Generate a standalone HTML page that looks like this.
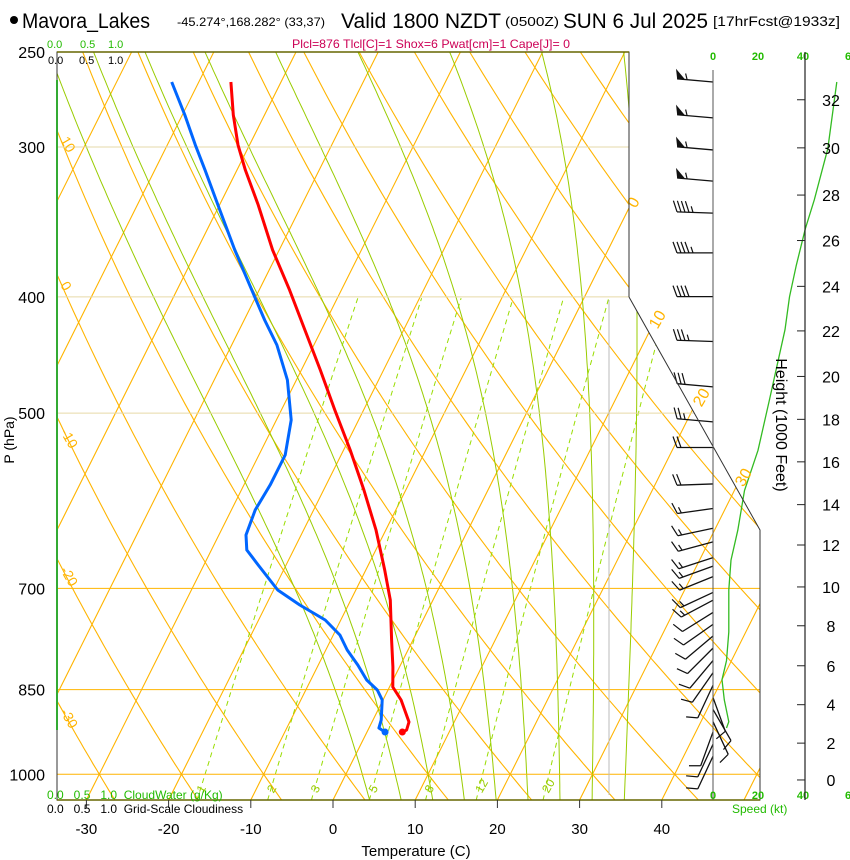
<!DOCTYPE html>
<html><head><meta charset="utf-8"><style>
html,body{margin:0;padding:0;background:#fff;}
svg{display:block;font-family:"Liberation Sans",sans-serif;}
</style></head><body>
<div style="position:relative;width:850px;height:860px">
<svg id="chart" width="850" height="860" viewBox="0 0 850 860" xmlns="http://www.w3.org/2000/svg" style="position:absolute;left:0;top:0">
<defs><clipPath id="plotclip"><polygon points="57,52 629,52 629,297 760,530 760,800 57,800"/></clipPath></defs>
<g>
<circle cx="14" cy="20" r="4" fill="#000"/>
<text x="22" y="28" font-size="21" textLength="128" lengthAdjust="spacingAndGlyphs">Mavora_Lakes</text>
<text x="177" y="26" font-size="12" textLength="148" lengthAdjust="spacingAndGlyphs">-45.274°,168.282° (33,37)</text>
<text x="341" y="28" font-size="21" textLength="160" lengthAdjust="spacingAndGlyphs">Valid 1800 NZDT</text>
<text x="505" y="26" font-size="13" textLength="54" lengthAdjust="spacingAndGlyphs">(0500Z)</text>
<text x="563" y="28" font-size="21" textLength="145" lengthAdjust="spacingAndGlyphs">SUN 6 Jul 2025</text>
<text x="713" y="26" font-size="14" textLength="127" lengthAdjust="spacingAndGlyphs">[17hrFcst@1933z]</text>
</g>
<text x="292" y="48" font-size="12" fill="#cc0055" textLength="278" lengthAdjust="spacingAndGlyphs">Plcl=876 Tlcl[C]=1 Shox=6 Pwat[cm]=1 Cape[J]= 0</text>
<g id="grid" clip-path="url(#plotclip)"></g>
<g id="series"></g>
<g id="axes"></g>
<g font-family="Liberation Sans, sans-serif">
<text x="47" y="48" font-size="11" fill="#22bb00">0.0</text>
<text x="80" y="48" font-size="11" fill="#22bb00">0.5</text>
<text x="108" y="48" font-size="11" fill="#22bb00">1.0</text>
<text x="48" y="64" font-size="11">0.0</text>
<text x="79" y="64" font-size="11">0.5</text>
<text x="108" y="64" font-size="11">1.0</text>
<text x="47" y="799" font-size="12" fill="#22bb00">0.0&#160;&#160;&#160;0.5&#160;&#160;&#160;1.0&#160;&#160;CloudWater (g/Kg)</text>
<text x="47" y="813" font-size="12">0.0&#160;&#160;&#160;0.5&#160;&#160;&#160;1.0&#160;&#160;Grid-Scale Cloudiness</text>
<text x="732" y="813" font-size="12" fill="#22bb00">Speed (kt)</text>
<text x="416" y="856" font-size="15" text-anchor="middle">Temperature (C)</text>
<text x="14" y="440" font-size="14" text-anchor="middle" transform="rotate(-90 14 440)">P (hPa)</text>
<text x="776" y="425" font-size="16" text-anchor="middle" transform="rotate(90 776 425)">Height (1000 Feet)</text>
</g>
</svg>
</div>
<script>
const pressureTicks=[250,300,400,500,700,850,1000];
const tempTicks=[-30,-20,-10,0,10,20,30,40];
const isotherms=[-110,-100,-90,-80,-70,-60,-50,-40,-30,-20,-10,0,10,20,30,40,50];
const dryAdiabats=[-30,-20,-10,0,10,20,30,40,50,60,70,80,90,100,110,120,130,140,150];
const moistAdiabats=[2,6,10,14,18,22,26,30,34];
const mixingRatios=[1,2,3,5,8,12,20];
const tempP=[264.8,282.1,298.8,313.5,335.3,365.6,394.8,426.3,460.3,497.0,536.7,579.5,625.7,675.7,715.7,772.8,813.9,845.8,867.2,904.6,918.6,922.2];
const tempT=[-56.1,-53.8,-51.4,-49.0,-45.3,-40.8,-36.3,-32.0,-27.7,-23.5,-19.2,-15.1,-11.2,-7.7,-5.2,-2.6,-0.8,0.4,2.2,4.5,4.7,4.3];
const dewP=[264.8,282.1,298.8,313.5,335.3,365.6,394.8,418.2,438.7,469.2,506.6,541.8,573.9,602.2,631.8,650.2,669.2,702.1,722.6,743.7,765.4,787.8,810.8,834.5,850.7,867.2,901.2,915.0,922.2];
const dewT=[-63.3,-59.7,-56.6,-53.9,-50.2,-45.4,-40.9,-37.5,-34.5,-31.1,-28.2,-26.8,-26.8,-27.1,-26.7,-25.7,-23.4,-19.5,-15.9,-11.9,-9.2,-7.4,-5.2,-3.2,-1.3,-0.1,1.0,1.2,2.2];
const barbP=[264.8,283.7,301.7,320.3,340.6,367.6,399.8,435.8,475.4,508.5,534.1,572.8,600.4,623.6,640.2,659.8,670.6,684.3,705.4,716,733,750,767,785,804,823,843,863,883,904,922,944,966];
const barbDir=[275,275,275,275,272,270,270,272,275,275,270,268,262,258,255,252,250,248,245,242,238,235,230,225,220,215,205,160,150,155,200,205,205];
const barbSpd=[55,55,55,55,45,45,40,35,30,25,20,20,15,15,15,15,15,15,15,15,12,12,10,10,10,10,8,8,10,8,8,8,8];
const speedP=[264.8,301,332,351,376.5,400,426,488,537,580,626,663,702,761,804,834,867,904,915];
const speedKt=[55,51,45,41,37,34,32,25,20,14,11,8,7,7,6,4,5,7,6];
const heightLabels=[0,2,4,6,8,10,12,14,16,18,20,22,24,26,28,30,32];
const heightP=[1011,942,875,812,752,698,644,596,549,506,466,427,392,359,329,300.5,274];

const NS='http://www.w3.org/2000/svg';
const yP=p=>52+521*Math.log(p/250);
const xT=(T,p)=>333+8.22*T+0.5*(800-yP(p));
const spdX=s=>713+2.25*s;
function mk(tag,attrs,parent){const e=document.createElementNS(NS,tag);for(const k in attrs)e.setAttribute(k,attrs[k]);parent.appendChild(e);return e;}
const grid=document.getElementById('grid'),series=document.getElementById('series'),axes=document.getElementById('axes');
function ptsStr(arr){return arr.map(a=>a[0].toFixed(1)+','+a[1].toFixed(1)).join(' ');}
const OR='#ffb400',GR='#99cc00';
isotherms.forEach(T=>{
 const l=mk('line',{x1:xT(T,1051),y1:yP(1051),x2:xT(T,250),y2:yP(250),stroke:OR,'stroke-width':1.1},grid);
 
 
});
dryAdiabats.forEach(th=>{
 const a=[];for(let p=1051;p>=240;p-=10){a.push([xT((th+273.15)*Math.pow(p/1000,0.286)-273.15,p),yP(p)]);}
 const l=mk('polyline',{points:ptsStr(a),fill:'none',stroke:OR,'stroke-width':1.1},grid);
 
 
});
function es(Tc){return 6.112*Math.exp(17.67*Tc/(Tc+243.5));}
function dTdlnp(T,p){const rs=0.622*es(T-273.15)/(p-es(T-273.15));return (287*T+2.5e6*rs)/(1005+2.5e6*2.5e6*rs*0.622/(287*T*T));}
moistAdiabats.forEach(tw=>{
 const a=[];let T=tw+273.15,lp=Math.log(1000);
 const down=[];let T2=T;for(let l=lp;l<=Math.log(1052);l+=0.01){down.push([xT(T2-273.15,Math.exp(l)),yP(Math.exp(l))]);T2+=dTdlnp(T2,Math.exp(l))*0.01;}
 for(let l=lp;l>=Math.log(245);l-=0.01){a.push([xT(T-273.15,Math.exp(l)),yP(Math.exp(l))]);T-=dTdlnp(T,Math.exp(l))*0.01;}
 const all=down.reverse().concat(a);
 const ln=mk('polyline',{points:ptsStr(all),fill:'none',stroke:GR,'stroke-width':1},grid);
 
 
});
mixingRatios.forEach(w=>{
 const a=[];for(let p=1051;p>=400;p-=10){const e=w*p/(622+w);const L=Math.log(e/6.112);a.push([xT(243.5*L/(17.67-L),p),yP(p)]);}
 const ln=mk('polyline',{points:ptsStr(a),fill:'none',stroke:'#99dd00','stroke-width':1,'stroke-dasharray':'5,4'},grid);
 
 
 const p=1038,e=w*p/(622+w),L=Math.log(e/6.112),x=xT(243.5*L/(17.67-L),p)+4;
 const t=mk('text',{x:x,y:yP(p),'font-size':12,fill:GR,transform:`rotate(-60 ${x} ${yP(p)})`},grid);t.textContent=w;
 
 
});
pressureTicks.slice(1).forEach(p=>{
 const l=mk('line',{x1:57,x2:760,y1:yP(p),y2:yP(p),stroke:p>=700?OR:'#e6d9a8','stroke-width':1},grid);
 
 
});
mk('line',{x1:609,x2:609,y1:300,y2:795,stroke:'#bbb','stroke-width':1},grid);
[[0,638,205],[10,662,322],[20,706,400],[30,748,480]].forEach(([v,x,y])=>{
 const t=mk('text',{x:x,y:y,'font-size':16,fill:OR,'text-anchor':'middle',transform:`rotate(-60 ${x} ${y})`},axes);t.textContent=v;
 
 
});
[[10,60,140],[0,60,285],[-10,60,432],[-20,60,570],[-30,60,712]].forEach(([v,x,y])=>{
 const t=mk('text',{x:x,y:y,'font-size':14,fill:OR,transform:`rotate(60 ${x} ${y})`},axes);t.textContent=v;
 
 
});
const fr=mk('polyline',{points:'629,297 629,52 57,52 57,800 760,800 760,530 629,297',fill:'none',stroke:'#333','stroke-width':1},axes);


mk('line',{x1:57,x2:629,y1:52,y2:52,stroke:'#666600','stroke-width':1.5},axes);
mk('line',{x1:57,x2:760,y1:800,y2:800,stroke:'#666600','stroke-width':1.5},axes);
mk('line',{x1:57,x2:57,y1:80,y2:730,stroke:'#33aa33','stroke-width':2},axes);
tempTicks.forEach(T=>{
 const x=333+8.22*T;
 mk('line',{x1:x,x2:x,y1:800,y2:808,stroke:'#333'},axes);
 const t=mk('text',{x:x,y:834,'font-size':15,'text-anchor':'middle'},axes);t.textContent=T;
 
 
});
pressureTicks.forEach(p=>{
 const t=mk('text',{x:45,y:yP(p)+6,'font-size':16,'text-anchor':'end'},axes);t.textContent=p;
 
 
});
function profile(P,T,col,name){
 const a=P.map((p,i)=>[xT(T[i],p),yP(p)]);
 const l=mk('polyline',{points:ptsStr(a),fill:'none',stroke:col,'stroke-width':3,'stroke-linejoin':'round'},series);
 
 
 const last=a[a.length-1];
 const c=mk('circle',{cx:last[0],cy:last[1],r:3.5,fill:col},series);
 
 
}
profile(tempP,tempT,'#ff0000','temperature-line');
profile(dewP,dewT,'#0066ff','dewpoint-line');
mk('line',{x1:713,x2:713,y1:70,y2:800,stroke:'#555','stroke-width':1},axes);
barbP.forEach((p,i)=>{
 const g=mk('g',{},series);
 
 
 const y0=yP(p),d=barbDir[i]*Math.PI/180,ux=Math.sin(d),uy=-Math.cos(d),L=36;
 const bx=-uy,by=ux;
 const tx=713+ux*L,ty=y0+uy*L;
 mk('line',{x1:713,y1:y0,x2:tx,y2:ty,stroke:'#111','stroke-width':1.3},g);
 let s=Math.round(barbSpd[i]/5)*5,pos=0;
 const at=k=>[tx-ux*k*4,ty-uy*k*4];
 while(s>=50){const [ax,ay]=at(pos),[cx,cy]=at(pos+2);mk('polygon',{points:`${ax},${ay} ${cx},${cy} ${ax+bx*10+ux*2},${ay+by*10+uy*2}`,fill:'#111'},g);pos+=2.5;s-=50;}
 while(s>=10){const [ax,ay]=at(pos);mk('line',{x1:ax,y1:ay,x2:ax+bx*11+ux*4,y2:ay+by*11+uy*4,stroke:'#111','stroke-width':1.2},g);pos+=1;s-=10;}
 if(s>=5){if(pos===0)pos=1;const [ax,ay]=at(pos);mk('line',{x1:ax,y1:ay,x2:ax+bx*6+ux*2,y2:ay+by*6+uy*2,stroke:'#111','stroke-width':1.2},g);}
});
const sp=mk('polyline',{points:ptsStr(speedP.map((p,i)=>[spdX(speedKt[i]),yP(p)])),fill:'none',stroke:'#33bb22','stroke-width':1.3},series);


[0,20,40,60].forEach(v=>{
 [60,799].forEach(y=>{const t=mk('text',{x:spdX(v),y:y,'font-size':11,'font-weight':'bold',fill:'#22bb00','text-anchor':'middle'},axes);t.textContent=(v===60?'6':v);
 
 });
});
mk('line',{x1:805,x2:805,y1:52,y2:800,stroke:'#222','stroke-width':1.2},axes);
heightLabels.forEach((h,i)=>{
 const y=yP(heightP[i]);
 mk('line',{x1:797,x2:805,y1:y,y2:y,stroke:'#222'},axes);
 const t=mk('text',{x:831,y:y+6,'font-size':16,'text-anchor':'middle'},axes);t.textContent=h;
 
 
});
</script>
</body></html>
